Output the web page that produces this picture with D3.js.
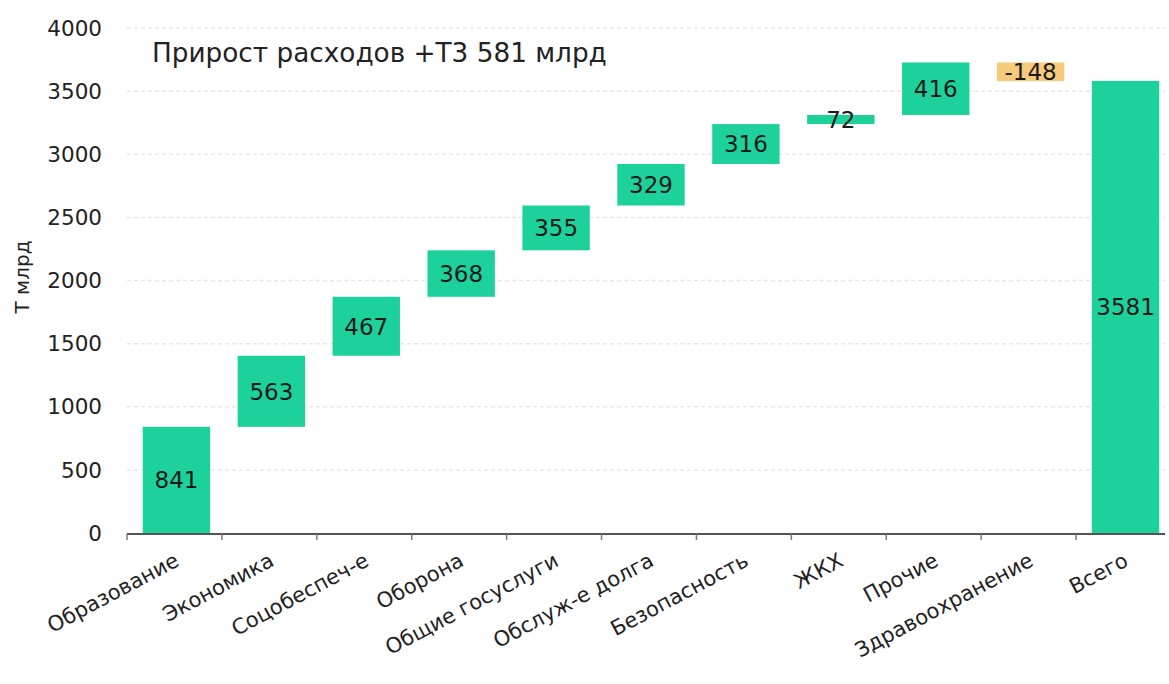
<!DOCTYPE html>
<html>
<head>
<meta charset="utf-8">
<script src="https://cdn.jsdelivr.net/npm/d3@7"></script>
<style>
  html, body { margin: 0; padding: 0; background: #fff; }
  svg { display: block; font-family: "DejaVu Sans", Verdana, sans-serif; }
</style>
</head>
<body>
<svg id="chart" width="1169" height="684"></svg>
<script>
const categories = ["Образование", "Экономика", "Соцобеспеч-е", "Оборона", "Общие госуслуги", "Обслуж-е долга", "Безопасность", "ЖКХ", "Прочие", "Здравоохранение", "Всего"];
const deltas = [841, 563, 467, 368, 355, 329, 316, 72, 416, -148, null];
const totalValue = 3581;
const yTicks = [0, 500, 1000, 1500, 2000, 2500, 3000, 3500, 4000];
const titleText = "Прирост расходов +Т3 581 млрд";
const yLabel = "Т млрд";

const svg = d3.select("#chart");
const W = 1169, H = 684;
const plotLeft = 127, plotRight = 1165, plotTop = 28, plotBottom = 533;

const x = d3.scaleBand().domain(categories).range([plotLeft + 2, plotRight + 8]).paddingInner(0.29).paddingOuter(0.145);
const y = d3.scaleLinear().domain([0, 4000]).range([plotBottom, plotTop]);

// waterfall rows
let cum = 0;
const rows = categories.map((c, i) => {
  if (deltas[i] === null) return { c, y0: 0, y1: totalValue, v: totalValue, neg: false };
  const y0 = cum; cum += deltas[i];
  return { c, y0, y1: cum, v: deltas[i], neg: deltas[i] < 0 };
});

// grid
svg.append("g").selectAll("line").data(yTicks.filter(d => d > 0)).join("line")
  .attr("x1", plotLeft).attr("x2", plotRight)
  .attr("y1", d => y(d)).attr("y2", d => y(d))
  .attr("stroke", "#e8e8e8").attr("stroke-width", 1.5).attr("stroke-dasharray", "4,3");

// y axis labels
svg.append("g").selectAll("text").data(yTicks).join("text")
  .attr("x", 102).attr("y", d => y(d)).attr("dy", "0.36em")
  .attr("text-anchor", "end").attr("font-size", 21.5).attr("fill", "#222")
  .text(d => d);

// y title
svg.append("text")
  .attr("transform", `translate(29, 277) rotate(-90)`)
  .attr("text-anchor", "middle").attr("font-size", 20).attr("fill", "#222")
  .text(yLabel);

// bars
svg.append("g").selectAll("rect").data(rows).join("rect")
  .attr("x", d => x(d.c)).attr("width", x.bandwidth())
  .attr("y", d => y(Math.max(d.y0, d.y1)))
  .attr("height", d => Math.abs(y(d.y0) - y(d.y1)))
  .attr("fill", d => d.neg ? "#f7c97c" : "#1dd29a");

// bar labels
svg.append("g").selectAll("text").data(rows).join("text")
  .attr("x", d => x(d.c) + x.bandwidth() / 2)
  .attr("y", d => y((d.y0 + d.y1) / 2)).attr("dy", "0.36em")
  .attr("text-anchor", "middle").attr("font-size", 23).attr("fill", "#1a1a1a")
  .text(d => d.v);

// x axis line & ticks
const axisY = y(0) + 1;
svg.append("line").attr("x1", plotLeft).attr("x2", plotRight)
  .attr("y1", axisY).attr("y2", axisY).attr("stroke", "#555").attr("stroke-width", 2);
const step = x.step();
const tickXs = d3.range(categories.length).map(i => plotLeft + i * step);
svg.append("g").selectAll("line").data(tickXs).join("line")
  .attr("x1", d => d).attr("x2", d => d)
  .attr("y1", axisY).attr("y2", axisY + 6)
  .attr("stroke", "#777").attr("stroke-width", 1.5);

// x labels
svg.append("g").selectAll("text").data(categories).join("text")
  .attr("transform", d => `translate(${x(d) + x.bandwidth() / 2 + 4}, ${axisY + 31}) rotate(-28)`)
  .attr("text-anchor", "end").attr("font-size", 21).attr("fill", "#222")
  .text(d => d);

// title
svg.append("text").attr("x", 152).attr("y", 62)
  .attr("font-size", 26.3).attr("fill", "#222").text(titleText);
</script>
</body>
</html>
